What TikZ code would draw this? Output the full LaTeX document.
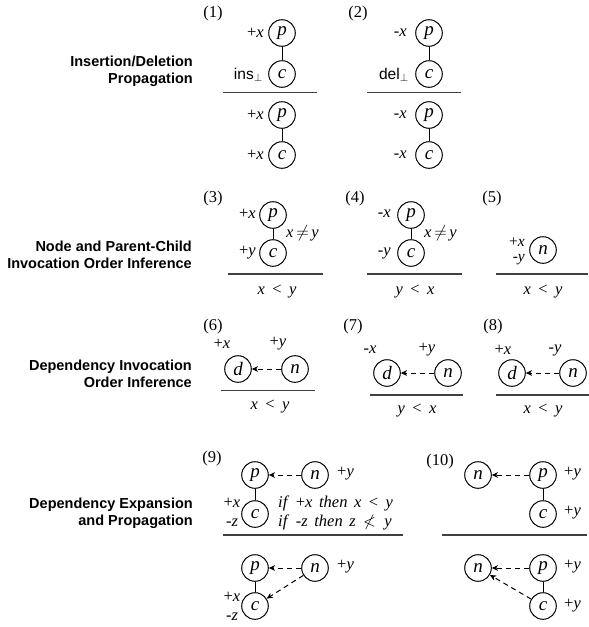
\documentclass[tikz,border=0pt]{standalone}
\usepackage{fontspec}
\usepackage{amssymb}
\setmainfont{Liberation Serif}
\setsansfont{Liberation Sans}
\usetikzlibrary{arrows.meta}
\newcommand\serfont{\fontsize{16.5}{18}\selectfont}
\newcommand\circfont{\fontsize{19}{20}\selectfont\itshape}
\newcommand\sectfont{\sffamily\bfseries\fontsize{14.5}{17}\selectfont}
\newcommand\sansfnt{\sffamily\fontsize{15.5}{17}\selectfont}
\newcommand\vi[1]{\textit{#1}}
\newcommand\ltx{\hspace{0.45em}<\hspace{0.45em}}
\tikzset{
  circ/.style={circle, draw, line width=1pt, minimum size=26.6pt, inner sep=0pt, font=\circfont},
  lab/.style={font=\serfont, inner sep=0pt},
  sect/.style={font=\sectfont, align=right, anchor=east, inner sep=0pt},
  rulel/.style={line width=1.4pt, draw=black!75},
  pc/.style={line width=1pt},
  dep/.style={line width=1pt, dash pattern=on 5pt off 4pt, -{Stealth[length=6pt,width=5.5pt,inset=1.5pt]}},
}
\begin{document}
\begin{tikzpicture}[x=1pt,y=-1pt]
\useasboundingbox (0,0) rectangle (589,627);
% section labels
\node[sect] (s1) at (193,71.5) {Insertion/Deletion\\Propagation};
\node[sect] (s2) at (192,254.5) {Node and Parent-Child\\Invocation Order Inference};
\node[sect] (s3) at (192,374) {Dependency Invocation\\Order Inference};
\node[sect] (s4) at (193,513) {Dependency Expansion\\and Propagation};

% (1)
\node[lab] (n1) at (213,14) {(1)};
\node[circ] (p1) at (282,33) {p};
\node[circ] (c1) at (282,74) {c};
\draw[pc] (p1) -- (c1);
\node[lab, anchor=east] (l1a) at (264,33) {+\vi{x}};
\node[anchor=east, inner sep=0pt, font=\sansfnt] (l1b) at (263,75) {ins$_\perp$};
\draw[rulel] (222.7,92.7) -- (316.7,92.7);
\node[circ] (p1b) at (282,115) {p};
\node[circ] (c1b) at (282,155) {c};
\draw[pc] (p1b) -- (c1b);
\node[lab, anchor=east] (l1c) at (264,115) {+\vi{x}};
\node[lab, anchor=east] (l1d) at (264,155) {+\vi{x}};

% (2)
\node[lab] (n2) at (358,14) {(2)};
\node[circ] (p2) at (429,33) {p};
\node[circ] (c2) at (429,74) {c};
\draw[pc] (p2) -- (c2);
\node[lab, anchor=east] (l2a) at (407,33) {-\vi{x}};
\node[anchor=east, inner sep=0pt, font=\sansfnt] (l2b) at (409,75) {del$_\perp$};
\draw[rulel] (367,92.7) -- (461,92.7);
\node[circ] (p2b) at (429,115) {p};
\node[circ] (c2b) at (429,155) {c};
\draw[pc] (p2b) -- (c2b);
\node[lab, anchor=east] (l2c) at (407,115) {-\vi{x}};
\node[lab, anchor=east] (l2d) at (407,155) {-\vi{x}};

% (3)
\node[lab] (n3) at (213,199) {(3)};
\node[circ] (p3) at (273,215) {p};
\node[circ] (c3) at (273,253) {c};
\draw[pc] (p3) -- (c3);
\node[lab, anchor=east] (l3a) at (256,214) {+\vi{x}};
\node[lab, anchor=east] (l3b) at (256,253) {+\vi{y}};
\node[lab, anchor=west] (l3c) at (286,233) {\vi{x}\,$\neq$\,\vi{y}};
\draw[rulel] (228,274) -- (323,274);
\node[lab] (r3) at (277,292) {\vi{x}\ltx\vi{y}};

% (4)
\node[lab] (n4) at (355,199) {(4)};
\node[circ] (p4) at (411,215) {p};
\node[circ] (c4) at (411,253) {c};
\draw[pc] (p4) -- (c4);
\node[lab, anchor=east] (l4a) at (391,214) {-\vi{x}};
\node[lab, anchor=east] (l4b) at (391,253) {-\vi{y}};
\node[lab, anchor=west] (l4c) at (424,233) {\vi{x}\,$\neq$\,\vi{y}};
\draw[rulel] (367,274) -- (462,274);
\node[lab] (r4) at (415,292) {\vi{y}\ltx\vi{x}};

% (5)
\node[lab] (n5) at (492,199) {(5)};
\node[circ] (nn5) at (543,250) {n};
\node[lab, anchor=east, align=right, font=\fontsize{15.5}{15}\selectfont] (l5a) at (525,251) {+\vi{x}\\-\vi{y}};
\draw[rulel] (496,274) -- (588,274);
\node[lab] (r5) at (543,292) {\vi{x}\ltx\vi{y}};

% (6)
\node[lab] (n6) at (213,327) {(6)};
\node[circ] (d6) at (238,369) {d};
\node[circ] (nn6) at (295,369) {n};
\draw[dep] (nn6) -- (d6);
\node[lab] (l6a) at (222,344) {+\vi{x}};
\node[lab] (l6b) at (278,344) {+\vi{y}};
\draw[rulel] (220.7,390.7) -- (315,390.7);
\node[lab] (r6) at (270,407) {\vi{x}\ltx\vi{y}};

% (7)
\node[lab] (n7) at (353,327) {(7)};
\node[circ] (d7) at (387,373) {d};
\node[circ] (nn7) at (448,373) {n};
\draw[dep] (nn7) -- (d7);
\node[lab] (l7a) at (370,350) {-\vi{x}};
\node[lab] (l7b) at (427,350) {+\vi{y}};
\draw[rulel] (370,395) -- (463,395);
\node[lab] (r7) at (417,411) {\vi{y}\ltx\vi{x}};

% (8)
\node[lab] (n8) at (493,327) {(8)};
\node[circ] (d8) at (512,373) {d};
\node[circ] (nn8) at (573,373) {n};
\draw[dep] (nn8) -- (d8);
\node[lab] (l8a) at (503,350) {+\vi{x}};
\node[lab] (l8b) at (555,350) {-\vi{y}};
\draw[rulel] (496,395) -- (589,395);
\node[lab] (r8) at (543,411) {\vi{x}\ltx\vi{y}};

% (9)
\node[lab] (n9) at (212,459) {(9)};
\node[circ] (p9) at (255,475) {p};
\node[circ] (nn9) at (315,475) {n};
\node[circ] (c9) at (255,514) {c};
\draw[pc] (p9) -- (c9);
\draw[dep] (nn9) -- (p9);
\node[lab, anchor=west] (l9a) at (337,474) {+\vi{y}};
\node[lab] (l9b) at (232,503) {+\vi{x}};
\node[lab] (l9c) at (232,523) {-\vi{z}};
\node[lab, anchor=west] (l9d) at (278,503) {\vi{if}\hspace{0.4em}+\vi{x}\hspace{0.4em}\vi{then}\hspace{0.4em}\vi{x}\ltx\vi{y}};
\node[lab, anchor=west] (l9e) at (278,522) {\vi{if}\hspace{0.4em}-\vi{z}\hspace{0.4em}\vi{then}\hspace{0.4em}\vi{z}\hspace{0.45em}$\nless$\hspace{0.5em}\vi{y}};
\draw[rulel] (222.7,535) -- (403,535);
\node[circ] (p9b) at (255,568) {p};
\node[circ] (nn9b) at (315,568) {n};
\node[circ] (c9b) at (255,606) {c};
\draw[pc] (p9b) -- (c9b);
\draw[dep] (nn9b) -- (p9b);
\draw[dep] (nn9b) -- (c9b);
\node[lab, anchor=west] (l9f) at (337,567) {+\vi{y}};
\node[lab] (l9g) at (232,597) {+\vi{x}};
\node[lab] (l9h) at (232,617) {-\vi{z}};

% (10)
\node[lab] (n10) at (440,462) {(10)};
\node[circ] (nn10) at (478,475) {n};
\node[circ] (p10) at (543,475) {p};
\node[circ] (c10) at (543,514) {c};
\draw[pc] (p10) -- (c10);
\draw[dep] (p10) -- (nn10);
\node[lab, anchor=west] (l10a) at (564,474) {+\vi{y}};
\node[lab, anchor=west] (l10b) at (564,513) {+\vi{y}};
\draw[rulel] (441.7,535) -- (587,535);
\node[circ] (nn10b) at (478,568) {n};
\node[circ] (p10b) at (543,568) {p};
\node[circ] (c10b) at (543,606) {c};
\draw[pc] (p10b) -- (c10b);
\draw[dep] (p10b) -- (nn10b);
\draw[dep] (c10b) -- (nn10b);
\node[lab, anchor=west] (l10c) at (564,567) {+\vi{y}};
\node[lab, anchor=west] (l10d) at (564,606) {+\vi{y}};
\end{tikzpicture}
\end{document}
